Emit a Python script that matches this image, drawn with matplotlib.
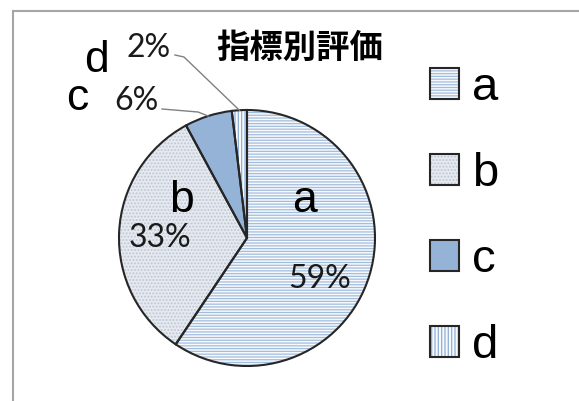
import numpy as np
import matplotlib
matplotlib.use("Agg")
from matplotlib import pyplot as plt
from matplotlib.lines import Line2D
from matplotlib.patches import Patch

# data
labels = ['a', 'b', 'c', 'd']
values = [59.4, 32.7, 6.0, 1.9]
pct_text = ['59%', '33%', '6%', '2%']
title = '指標別評価'

plt.rcParams['hatch.linewidth'] = 0.9

W, H = 579, 401
CX, CY, R = 247, 238, 128  # pie centre / radius in pixels


def px(x, y):
    # pixel position -> data coords of the full-figure axes
    return (x - CX) / R, (CY - y) / R


fig = plt.figure(figsize=(W / 100, H / 100), dpi=100)
ax = fig.add_axes([0, 0, 1, 1])

faces = ['#f7f9fc', '#e6eaf0', '#95b3d7', '#f7f9fc']
hatch_cols = ['#a3bddd', '#bcc6d3', '#95b3d7', '#8fb0d8']
hatches = ['------', '.....', None, '|||||']

# hatched fill (edge colour = hatch colour), then dark outlines on top
wedges, _ = ax.pie(values, startangle=90, counterclock=False, radius=1,
                   colors=faces, wedgeprops=dict(linewidth=0))
for w, hc, h in zip(wedges, hatch_cols, hatches):
    w.set_edgecolor(hc)
    if h:
        w.set_hatch(h)
outl, _ = ax.pie(values, startangle=90, counterclock=False, radius=1,
                 colors=['none'] * 4,
                 wedgeprops=dict(linewidth=1.5, edgecolor='#262626'))

ax.set_xlim(-CX / R, (W - CX) / R)
ax.set_ylim(-(H - CY) / R, CY / R)
ax.set_aspect('equal')
ax.axis('off')

letter_font = 'Liberation Sans'
pct_font = 'Lato'
pct_size = 23
pct_col = '#1a1a1a'

# inside labels
ax.text(*px(305, 212), 'a', fontsize=32, family=letter_font, ha='center', va='baseline')
ax.text(*px(320, 288), pct_text[0], fontsize=pct_size, family=pct_font, ha='center', va='baseline', color=pct_col)
ax.text(*px(181, 212), 'b', fontsize=32, family=letter_font, ha='center', va='baseline')
ax.text(*px(160, 247), pct_text[1], fontsize=pct_size, family=pct_font, ha='center', va='baseline', color=pct_col)

# outside labels
ax.text(*px(77, 110), 'c', fontsize=32, family=letter_font, ha='center', va='baseline')
ax.text(*px(136, 110), pct_text[2], fontsize=pct_size, family=pct_font, ha='center', va='baseline', color=pct_col)
ax.text(*px(97, 72), 'd', fontsize=32, family=letter_font, ha='center', va='baseline')
ax.text(*px(149, 57), pct_text[3], fontsize=pct_size, family=pct_font, ha='center', va='baseline', color=pct_col)


def edge_point(w):
    mid = np.deg2rad((w.theta1 + w.theta2) / 2)
    return np.cos(mid), np.sin(mid)


# leader lines
ex, ey = edge_point(outl[2])
x0, y0 = px(162, 109)
x1, y1 = px(198, 112)
ax.plot([x0, x1, ex], [y0, y1, ey], color='#808080', lw=1)
ex, ey = edge_point(outl[3])
x0, y0 = px(175, 55)
x1, y1 = px(184, 57)
ax.plot([x0, x1, ex], [y0, y1, ey], color='#808080', lw=1)

ax.text(*px(300, 58), title, fontsize=24, fontweight='bold',
        family=['Noto Sans CJK JP', 'DejaVu Sans'], ha='center', va='baseline')

# legend: hatched box + dark outline overlaid
handles = []
for fc, hc, h in zip(faces, hatch_cols, hatches):
    p1 = Patch(facecolor=fc, edgecolor=hc, hatch=h, linewidth=0)
    p2 = Patch(facecolor='none', edgecolor='#262626', linewidth=1.5)
    handles.append((p1, p2))
leg = fig.legend(handles, labels, loc='upper left', bbox_to_anchor=(430 / W, 1 - 66 / H),
                 frameon=False, prop={'family': letter_font, 'size': 34},
                 handlelength=0.62, handleheight=0.62, handletextpad=0.28,
                 labelspacing=0.89, borderaxespad=0, borderpad=0)

# chart frame (top and left edges visible)
fig.add_artist(Line2D([13 / W, 1], [1 - 11 / H, 1 - 11 / H], color='#a6a6a6', lw=1.5))
fig.add_artist(Line2D([13 / W, 13 / W], [0, 1 - 11 / H], color='#a6a6a6', lw=1.5))

fig.savefig('out.png', dpi=100)
